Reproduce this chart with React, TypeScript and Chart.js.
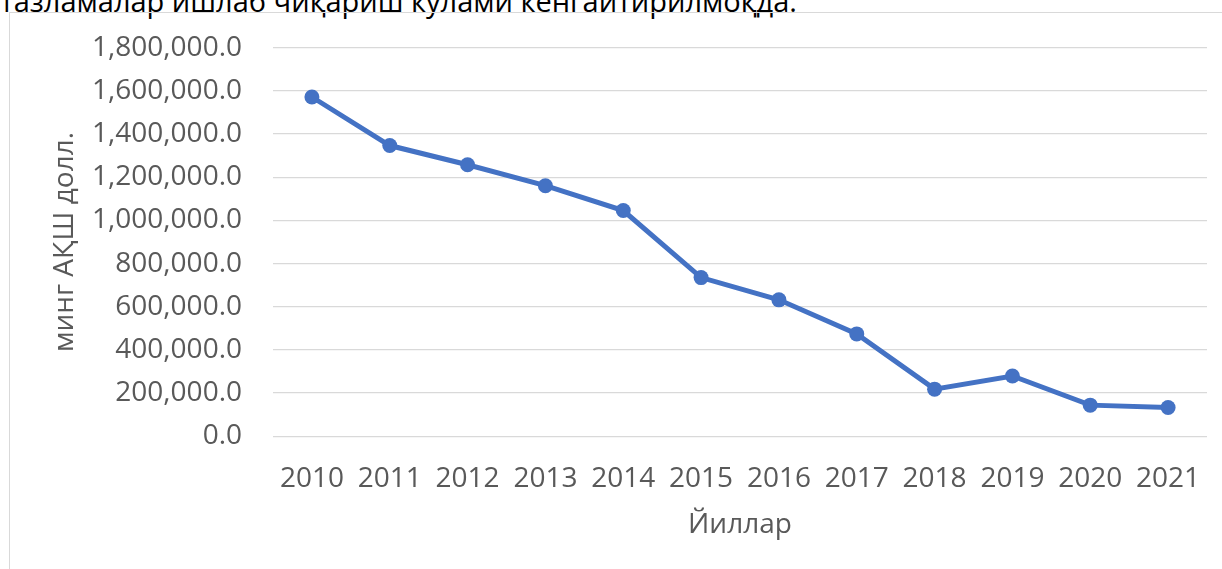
import React, { useEffect, useRef } from "react";
import { Chart, registerables } from "chart.js";

Chart.register(...registerables);

const years = ["2010", "2011", "2012", "2013", "2014", "2015", "2016", "2017", "2018", "2019", "2020", "2021"];
const values = [1572000, 1347000, 1258000, 1161000, 1046000, 735000, 632000, 474000, 218000, 279000, 144000, 133000];
const yTitle = "минг АҚШ долл.";
const xTitle = "Йиллар";
const caption = "тазламалар ишлаб чиқариш кўлами кенгайтирилмоқда.";

const FONT = "'Open Sans', 'Noto Sans', sans-serif";
const TXT = "#595959";
const FS = 28;

export default function App() {
  const ref = useRef<HTMLCanvasElement | null>(null);
  useEffect(() => {
    document.body.style.margin = "0";
    const ctx = ref.current!;
    const chart = new Chart(ctx, {
      type: "line",
      data: {
        labels: years,
        datasets: [
          {
            data: values,
            borderColor: "#4472C4",
            backgroundColor: "#4472C4",
            borderWidth: 5,
            pointRadius: 7.5,
            pointBackgroundColor: "#4472C4",
            pointBorderColor: "#4472C4",
            pointBorderWidth: 0,
            tension: 0,
          },
        ],
      },
      options: {
        animation: false,
        responsive: false,
        layout: { padding: { top: 45.6, right: 15, bottom: 0, left: 0 } },
        plugins: { legend: { display: false }, tooltip: { enabled: false } },
        scales: {
          x: {
            offset: true,
            grid: { display: false, drawTicks: false },
            border: { display: false },
            ticks: { color: TXT, font: { family: FONT, size: FS }, padding: 26, maxRotation: 0 },
            title: { display: true, text: xTitle, color: TXT, font: { family: FONT, size: FS }, padding: { top: 0, bottom: 27 } },
            afterFit: (s: any) => { s.height = 569 - 436.2; s.paddingLeft = 0; s.paddingRight = 0; },
          },
          y: {
            min: 0,
            max: 1800000,
            grid: { color: "#d9d9d9", lineWidth: 1.3, drawTicks: false },
            border: { display: false },
            ticks: {
              stepSize: 200000,
              color: TXT,
              font: { family: FONT, size: FS },
              padding: 31,
              callback: (v: any) => Number(v).toLocaleString("en-US", { minimumFractionDigits: 1, maximumFractionDigits: 1 }),
            },
            title: { display: true, text: yTitle, color: TXT, font: { family: FONT, size: FS }, padding: { top: 48, bottom: 0 } },
            afterFit: (s: any) => { s.width = 273; },
          },
        },
      },
    });
    return () => chart.destroy();
  }, []);
  return (
    <div style={{ position: "absolute", left: 0, top: 0, width: 1222, height: 569, overflow: "hidden", background: "#fff" }}>
      <div style={{ position: "absolute", left: 0, top: -14, fontFamily: FONT, fontSize: 29, lineHeight: "29px", color: "#000", whiteSpace: "nowrap" }}>{caption}</div>
      <div style={{ position: "absolute", left: 9, top: 12, width: 1300, height: 700, border: "1px solid #d9d9d9", boxSizing: "border-box" }} />
      <canvas ref={ref} width={1222} height={569} style={{ position: "absolute", left: 0, top: 0 }} />
    </div>
  );
}
